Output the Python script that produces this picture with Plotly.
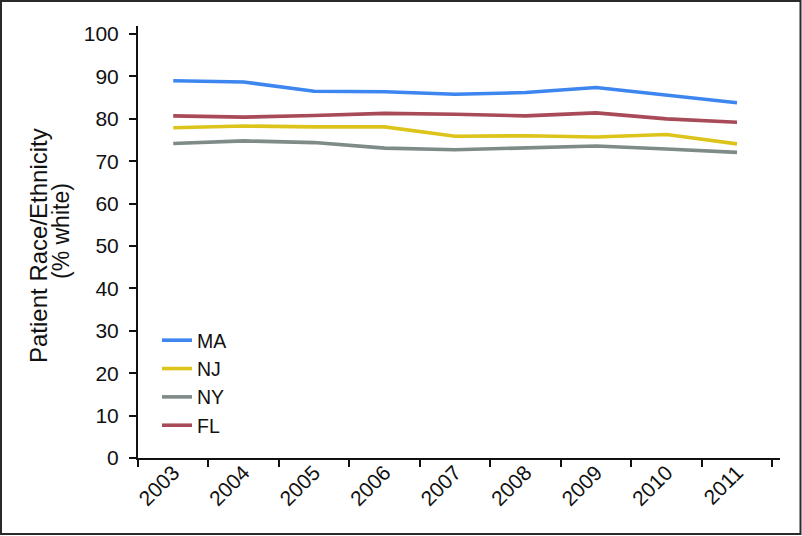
import plotly.graph_objects as go

years = ["2003", "2004", "2005", "2006", "2007", "2008", "2009", "2010", "2011"]
ma = [89.0, 88.7, 86.5, 86.4, 85.8, 86.2, 87.4, 85.5, 83.8]
nj = [77.9, 78.3, 78.1, 78.1, 75.9, 76.0, 75.7, 76.3, 74.1]
ny = [74.2, 74.8, 74.4, 73.1, 72.7, 73.1, 73.6, 72.9, 72.1]
fl = [80.7, 80.4, 80.8, 81.3, 81.1, 80.7, 81.4, 80.0, 79.2]

series_names = ["MA", "NJ", "NY", "FL"]
series_values = [ma, nj, ny, fl]
series_colors = ["#3d86f0", "#dcc41a", "#7f8b89", "#a84a57"]

y_ticks = [0, 10, 20, 30, 40, 50, 60, 70, 80, 90, 100]
y_title_lines = ["Patient Race/Ethnicity", "(% white)"]

FONT = "Liberation Sans, Arial, Helvetica, sans-serif"

fig = go.Figure()
for name, vals, col in zip(series_names, series_values, series_colors):
    fig.add_trace(go.Scatter(
        x=years, y=vals, name=name, mode="lines",
        line=dict(color=col, width=3.6),
    ))

W, H = 802, 536
L, R, T, B = 138, 22, 26, 78
pw, ph = W - L - R, H - T - B

def px_to_paper_x(px):
    return (px - L) / pw

def px_to_paper_y(py):
    return (H - B - py) / ph

fig.update_layout(
    width=W, height=H,
    margin=dict(l=L, r=R, t=T, b=B, pad=0),
    paper_bgcolor="white", plot_bgcolor="white",
    font=dict(family=FONT, color="#111111", size=21),
    showlegend=True,
    legend=dict(
        x=px_to_paper_x(157), xanchor="left",
        y=px_to_paper_y(383), yanchor="middle",
        font=dict(size=19.5, family=FONT, color="#111111"),
        bgcolor="rgba(0,0,0,0)", borderwidth=0,
        traceorder="normal",
    ),
    xaxis=dict(
        type="category", range=[-0.5, 8.61],
        showline=True, linecolor="#111111", linewidth=2,
        ticks="outside", tickson="boundaries", ticklen=7, tickwidth=1.6,
        tickcolor="#111111", tickangle=-45, ticklabelstandoff=-8,
        tickfont=dict(size=21, family=FONT, color="#111111"),
        showgrid=False, zeroline=False,
    ),
    yaxis=dict(
        range=[0, 101.9], tickvals=y_ticks,
        showline=True, linecolor="#111111", linewidth=2,
        ticks="outside", ticklen=7, tickwidth=1.6, tickcolor="#111111",
        ticklabelstandoff=6,
        tickfont=dict(size=21, family=FONT, color="#111111"),
        showgrid=False, zeroline=False,
    ),
    annotations=[
        dict(text=y_title_lines[0], xref="paper", yref="paper",
             x=px_to_paper_x(38), y=px_to_paper_y(246),
             xanchor="center", yanchor="middle", textangle=-90,
             showarrow=False, font=dict(size=24, family=FONT, color="#111111")),
        dict(text=y_title_lines[1], xref="paper", yref="paper",
             x=px_to_paper_x(61), y=px_to_paper_y(231),
             xanchor="center", yanchor="middle", textangle=-90,
             showarrow=False, font=dict(size=23, family=FONT, color="#111111")),
    ],
    shapes=[dict(
        type="rect", xref="paper", yref="paper",
        x0=px_to_paper_x(1), x1=px_to_paper_x(800.5),
        y0=px_to_paper_y(534), y1=px_to_paper_y(1),
        line=dict(color="#2a2a2a", width=2), fillcolor="rgba(0,0,0,0)",
        layer="below",
    )],
)

fig.write_html("out.html", config={"displayModeBar": False},
               post_script="document.body.style.margin='0px';")
